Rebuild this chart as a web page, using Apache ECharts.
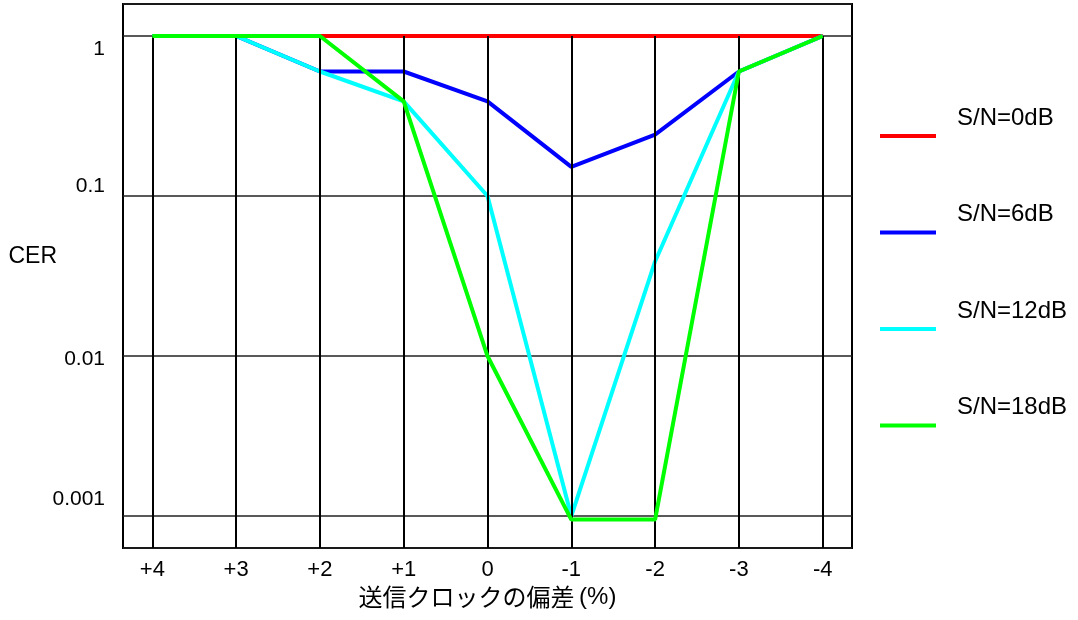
<!DOCTYPE html>
<html>
<head>
<meta charset="utf-8">
<script src="https://cdn.jsdelivr.net/npm/echarts@6/dist/echarts.min.js"></script>
<style>html,body{margin:0;padding:0;background:#fff}#c{width:1078px;height:620px}</style>
</head>
<body>
<div id="c"></div>
<script>
const categories = ['+4', '+3', '+2', '+1', '0', '-1', '-2', '-3', '-4'];
const seriesNames = ['S/N=0dB', 'S/N=6dB', 'S/N=12dB', 'S/N=18dB'];
const cer0dB  = [1, 1, 1, 1, 1, 1, 1, 1, 1];
const cer6dB  = [1, 1, 0.6, 0.6, 0.39, 0.152, 0.242, 0.6, 1];
const cer12dB = [1, 1, 0.6, 0.39, 0.1, 0.001, 0.039, 0.6, 1];
const cer18dB = [1, 1, 1, 0.39, 0.01, 0.00095, 0.00095, 0.6, 1];
const yTickValues = [1, 0.1, 0.01, 0.001];
const yTickLabels = ['1', '0.1', '0.01', '0.001'];
const colors = ['#ff0000', '#0000ff', '#00ffff', '#00ff00'];

const FONT = "'Liberation Sans', Arial, 'Noto Sans CJK JP', sans-serif";
const X_MIN = -0.35, X_MAX = categories.length - 1 + 0.35;
const Y_MIN = 0.000631, Y_MAX = 1.585;
const allSeries = [cer0dB, cer6dB, cer12dB, cer18dB];
const labelShift = ['dn', 'up', 'mid', 'up2'];

const chart = echarts.init(document.getElementById('c'), null, {renderer: 'canvas'});
const gridSeries = {
  name: '_grid', type: 'line', data: [], z: 1, silent: true,
  markLine: {
    silent: true, symbol: ['none', 'none'], label: {show: false},
    lineStyle: {color: '#000', width: 2, type: 'solid'},
    emphasis: {disabled: true},
    animation: false,
    data: categories.map((c, i) => [{coord: [i, yTickValues[0]]}, {coord: [i, Y_MIN]}])
  }
};
const dataSeries = seriesNames.map((n, k) => ({
  name: n, type: 'line', z: 2 + k,
  data: allSeries[k].map((v, i) => [i, v]),
  symbol: 'none', showSymbol: false, color: colors[k],
  lineStyle: {width: 4, color: colors[k]},
  animation: false
}));

chart.setOption({
  animation: false,
  textStyle: {fontFamily: FONT},
  grid: {
    left: 123, right: 226, top: 4, bottom: 72,
    containLabel: false, outerBoundsMode: 'none',
    show: true, borderColor: '#000', borderWidth: 2, backgroundColor: 'transparent'
  },
  legend: {
    orient: 'vertical', left: 880, top: 106, padding: 0, itemGap: 36.5,
    itemWidth: 56, itemHeight: 4, icon: 'rect',
    data: seriesNames,
    formatter: name => '{t|' + name + '}',
    textStyle: {
      fontSize: 24, color: '#000', fontFamily: FONT,
      rich: {t: {fontSize: 24, color: '#000', fontFamily: FONT, lineHeight: 28, padding: [0, 0, 36, 16]}}
    }
  },
  xAxis: {
    type: 'value', min: X_MIN, max: X_MAX,
    name: '{a|送信クロックの偏差}{s| }{b|(%)}', nameLocation: 'middle', nameGap: 37,
    nameMoveOverlap: false,
    nameTextStyle: {rich: {
      a: {fontSize: 24, fontFamily: "'Noto Sans CJK JP', sans-serif", color: '#000'},
      s: {fontSize: 16, fontFamily: FONT},
      b: {fontSize: 24, fontFamily: FONT, color: '#000'}
    }},
    axisLine: {show: false}, axisTick: {show: false}, splitLine: {show: false},
    axisLabel: {
      customValues: categories.map((c, i) => i),
      formatter: v => categories[Math.round(v)] ?? '',
      fontSize: 22, color: '#000', margin: 11, fontFamily: FONT
    }
  },
  yAxis: {
    type: 'log', logBase: 10, min: Y_MIN, max: Y_MAX,
    name: '{c|CER}', nameLocation: 'middle', nameRotate: 0, nameGap: 66,
    nameMoveOverlap: false,
    nameTextStyle: {rich: {c: {fontSize: 23, color: '#000', fontFamily: FONT, padding: [0, 0, 38, 0]}}},
    axisLine: {show: false}, axisTick: {show: false},
    splitLine: {show: true, lineStyle: {color: '#222', width: 1.5}},
    axisLabel: {
      showMinLabel: false, showMaxLabel: false,
      fontSize: 21, color: '#000', margin: 18, fontFamily: FONT,
      formatter: v => {
        const idx = yTickValues.findIndex(t => Math.abs(Math.log10(t) - Math.log10(v)) < 1e-6);
        return idx < 0 ? '' : '{' + labelShift[idx] + '|' + yTickLabels[idx] + '}';
      },
      rich: {
        dn: {fontSize: 21, fontFamily: FONT, color: '#000', padding: [26, 0, 0, 0]},
        up: {fontSize: 21, fontFamily: FONT, color: '#000', padding: [0, 0, 20, 0]},
        mid: {fontSize: 21, fontFamily: FONT, color: '#000', padding: [6, 0, 0, 0]},
        up2: {fontSize: 21, fontFamily: FONT, color: '#000', padding: [0, 0, 34, 0]}
      }
    }
  },
  series: [gridSeries].concat(dataSeries)
});
</script>
</body>
</html>
